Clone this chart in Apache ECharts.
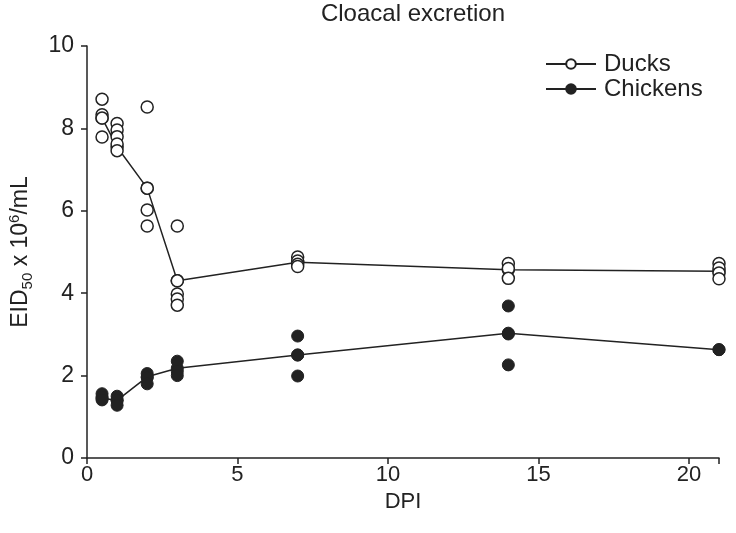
<!DOCTYPE html>
<html><head><meta charset="utf-8">
<script src="https://cdn.jsdelivr.net/npm/echarts@6/dist/echarts.min.js"></script>
<style>html,body{margin:0;padding:0;background:#fff}#c{width:736px;height:533px}</style>
</head><body><div id="c"></div>
<script>
const title = 'Cloacal excretion';
const xTicks = [0, 5, 10, 15, 20];
const yTicks = [0, 2, 4, 6, 8, 10];
// Individual measurements [DPI, value]
const duckPoints = [
  [0.5, 8.71], [0.5, 8.33], [0.5, 8.25], [0.5, 7.79],
  [1, 8.12], [1, 7.96], [1, 7.8], [1, 7.62], [1, 7.46],
  [2, 8.52], [2, 6.55], [2, 6.02], [2, 5.63],
  [3, 5.63], [3, 4.3], [3, 3.98], [3, 3.86], [3, 3.71],
  [7, 4.88], [7, 4.78], [7, 4.7], [7, 4.65],
  [14, 4.72], [14, 4.6], [14, 4.36],
  [21, 4.72], [21, 4.61], [21, 4.49], [21, 4.35]
];
const chickenPoints = [
  [0.5, 1.56], [0.5, 1.48], [0.5, 1.41],
  [1, 1.5], [1, 1.4], [1, 1.28],
  [2, 2.05], [2, 1.95], [2, 1.8],
  [3, 2.35], [3, 2.1], [3, 2.0],
  [7, 2.96], [7, 2.5], [7, 1.99],
  [14, 3.69], [14, 3.01], [14, 2.26],
  [21, 2.63]
];
// Means (line)
const duckMean = [[0.5, 8.25], [1, 7.55], [2, 6.55], [3, 4.3], [7, 4.75], [14, 4.57], [21, 4.53]];
const chickenMean = [[0.5, 1.45], [1, 1.4], [2, 1.97], [3, 2.18], [7, 2.5], [14, 3.03], [21, 2.63]];

const FONT = 'Liberation Sans, Arial, sans-serif';
const ink = '#222';
const chart = echarts.init(document.getElementById('c'));
chart.setOption({
  animation: false,
  backgroundColor: '#fff',
  title: { text: title, left: 408, top: -3, textAlign: 'center',
    textStyle: { fontFamily: FONT, fontSize: 24, fontWeight: 'normal', color: ink } },
  legend: {
    orient: 'vertical', left: 540, top: 47, itemWidth: 50, itemHeight: 12, itemGap: 1,
    textStyle: { fontFamily: FONT, fontSize: 24, color: ink, padding: [0, 0, 0, 3] },
    data: ['Ducks', 'Chickens']
  },
  grid: { left: 87, right: 17, top: 46, bottom: 75, containLabel: false, outerBoundsMode: 'none' },
  xAxis: {
    type: 'value', min: 0, max: 21, interval: 5,
    name: 'DPI', nameLocation: 'middle', nameGap: 26,
    nameTextStyle: { fontFamily: FONT, fontSize: 22, color: ink },
    axisLine: { lineStyle: { color: ink, width: 1.5 } },
    axisTick: { length: 6, lineStyle: { color: ink, width: 1.5 } },
    axisLabel: { fontFamily: FONT, fontSize: 22, color: ink, margin: 6,
      formatter: v => xTicks.includes(v) ? String(v) : '' },
    splitLine: { show: false }
  },
  yAxis: {
    type: 'value', min: 0, max: 10, interval: 2,
    name: 'EID{sub|50} x 10{sup|6}/mL', nameLocation: 'middle', nameGap: 52, nameRotate: 90,
    nameTextStyle: { fontFamily: FONT, fontSize: 23, color: ink, lineHeight: 28,
      rich: {
        sub: { fontFamily: FONT, fontSize: 15, color: ink, verticalAlign: 'bottom', lineHeight: 28, padding: [10, 0, 0, 0] },
        sup: { fontFamily: FONT, fontSize: 15, color: ink, verticalAlign: 'top', lineHeight: 28, padding: [0, 0, 10, 0] }
      } },
    axisLine: { show: true, lineStyle: { color: ink, width: 1.5 } },
    axisTick: { show: true, length: 6, lineStyle: { color: ink, width: 1.5 } },
    axisLabel: { fontFamily: FONT, fontSize: 23, color: ink, margin: 13,
      formatter: v => yTicks.includes(v) ? String(v) : '' },
    splitLine: { show: false }
  },
  series: [
    { name: 'Ducks', type: 'line', data: duckMean, symbol: 'circle', symbolSize: 12, z: 3,
      lineStyle: { color: ink, width: 1.5 },
      itemStyle: { color: '#fff', borderColor: ink, borderWidth: 1.5, opacity: 1 } },
    { name: 'Chickens', type: 'line', data: chickenMean, symbol: 'circle', symbolSize: 12, z: 3,
      lineStyle: { color: ink, width: 1.5 },
      itemStyle: { color: ink, borderColor: ink, borderWidth: 1, opacity: 1 } },
    { name: 'DucksPts', type: 'scatter', data: duckPoints, symbol: 'circle', symbolSize: 12, z: 4,
      itemStyle: { color: '#fff', borderColor: ink, borderWidth: 1.5, opacity: 1 } },
    { name: 'ChickenPts', type: 'scatter', data: chickenPoints, symbol: 'circle', symbolSize: 12, z: 4,
      itemStyle: { color: ink, borderColor: ink, borderWidth: 1, opacity: 1 } }
  ]
});
</script></body></html>
